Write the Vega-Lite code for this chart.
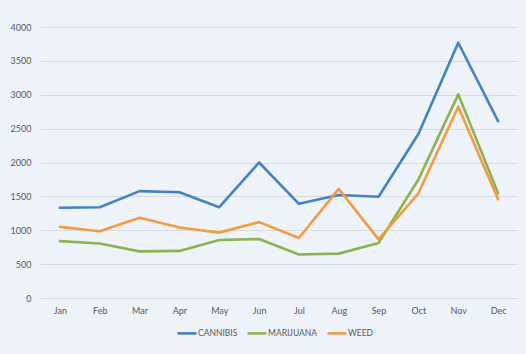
{
  "$schema": "https://vega.github.io/schema/vega-lite/v6.json",
  "width": 478,
  "height": 271,
  "autosize": {"type": "none"},
  "padding": {"left": 40, "top": 27, "right": 8, "bottom": 56},
  "background": "#EEF2F9",
  "config": {
    "view": {"stroke": null},
    "font": "Lato"
  },
  "data": {
    "values": [
      {"month": "Jan", "series": "CANNIBIS", "value": 1333},
      {"month": "Feb", "series": "CANNIBIS", "value": 1340},
      {"month": "Mar", "series": "CANNIBIS", "value": 1578},
      {"month": "Apr", "series": "CANNIBIS", "value": 1560},
      {"month": "May", "series": "CANNIBIS", "value": 1340},
      {"month": "Jun", "series": "CANNIBIS", "value": 2000},
      {"month": "Jul", "series": "CANNIBIS", "value": 1390},
      {"month": "Aug", "series": "CANNIBIS", "value": 1520},
      {"month": "Sep", "series": "CANNIBIS", "value": 1495},
      {"month": "Oct", "series": "CANNIBIS", "value": 2420},
      {"month": "Nov", "series": "CANNIBIS", "value": 3768},
      {"month": "Dec", "series": "CANNIBIS", "value": 2610},
      {"month": "Jan", "series": "MARIJUANA", "value": 840},
      {"month": "Feb", "series": "MARIJUANA", "value": 805},
      {"month": "Mar", "series": "MARIJUANA", "value": 688},
      {"month": "Apr", "series": "MARIJUANA", "value": 695},
      {"month": "May", "series": "MARIJUANA", "value": 855},
      {"month": "Jun", "series": "MARIJUANA", "value": 870},
      {"month": "Jul", "series": "MARIJUANA", "value": 642},
      {"month": "Aug", "series": "MARIJUANA", "value": 655},
      {"month": "Sep", "series": "MARIJUANA", "value": 812},
      {"month": "Oct", "series": "MARIJUANA", "value": 1750},
      {"month": "Nov", "series": "MARIJUANA", "value": 3006},
      {"month": "Dec", "series": "MARIJUANA", "value": 1545},
      {"month": "Jan", "series": "WEED", "value": 1050},
      {"month": "Feb", "series": "WEED", "value": 985},
      {"month": "Mar", "series": "WEED", "value": 1185},
      {"month": "Apr", "series": "WEED", "value": 1040},
      {"month": "May", "series": "WEED", "value": 965},
      {"month": "Jun", "series": "WEED", "value": 1120},
      {"month": "Jul", "series": "WEED", "value": 885},
      {"month": "Aug", "series": "WEED", "value": 1610},
      {"month": "Sep", "series": "WEED", "value": 866},
      {"month": "Oct", "series": "WEED", "value": 1545},
      {"month": "Nov", "series": "WEED", "value": 2824},
      {"month": "Dec", "series": "WEED", "value": 1457}
    ]
  },
  "mark": {"type": "line", "strokeWidth": 2.6, "strokeCap": "round", "strokeJoin": "round"},
  "encoding": {
    "x": {
      "field": "month",
      "type": "ordinal",
      "sort": ["Jan","Feb","Mar","Apr","May","Jun","Jul","Aug","Sep","Oct","Nov","Dec"],
      "scale": {"type": "point", "padding": 0.5},
      "axis": {
        "title": null,
        "labelAngle": 0,
        "labelColor": "#595959",
        "labelFontSize": 9,
        "labelPadding": 8,
        "domain": false,
        "ticks": false,
        "grid": false
      }
    },
    "y": {
      "field": "value",
      "type": "quantitative",
      "scale": {"domain": [0, 4000]},
      "axis": {
        "title": null,
        "format": "d",
        "values": [0,500,1000,1500,2000,2500,3000,3500,4000],
        "labelColor": "#595959",
        "labelFontSize": 9,
        "labelPadding": 9,
        "domain": false,
        "ticks": false,
        "gridColor": "#D9D9D9",
        "gridWidth": 1
      }
    },
    "color": {
      "field": "series",
      "type": "nominal",
      "scale": {
        "domain": ["CANNIBIS", "MARIJUANA", "WEED"],
        "range": ["#4382C4", "#8DB350", "#F39A45"]
      },
      "legend": {
        "title": null,
        "orient": "none",
        "legendX": 136,
        "legendY": 295,
        "direction": "horizontal",
        "symbolType": "stroke",
        "symbolSize": 360,
        "symbolStrokeWidth": 2.6,
        "labelColor": "#595959",
        "labelFontSize": 8.5,
        "labelOffset": 0,
        "columnPadding": 4
      }
    }
  }
}
